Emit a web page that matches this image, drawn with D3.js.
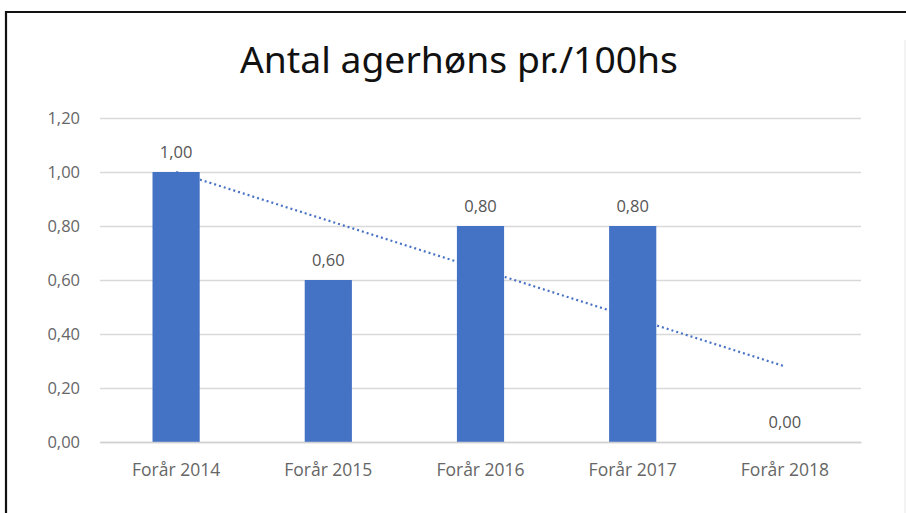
<!DOCTYPE html>
<html>
<head>
<meta charset="utf-8">
<script src="https://cdn.jsdelivr.net/npm/d3@7"></script>
<style>
  html, body { margin: 0; padding: 0; background: #fff; }
  svg { display: block; }
</style>
</head>
<body>
<script>
const categories = ["Forår 2014", "Forår 2015", "Forår 2016", "Forår 2017", "Forår 2018"];
const values = [1.00, 0.60, 0.80, 0.80, 0.00];
const yTicks = [0, 0.2, 0.4, 0.6, 0.8, 1.0, 1.2];
const trendValues = [1.00, 0.28]; // linear trendline value at first and last category
const title = "Antal agerhøns pr./100hs";

const W = 906, H = 513;
const svg = d3.select("body").append("svg").attr("width", W).attr("height", H);

// frame
svg.append("path").attr("d", `M6,${H} V12 H${W}`).attr("fill", "none").attr("stroke", "#111").attr("stroke-width", 2.2);
svg.append("line").attr("x1", 905).attr("x2", 905).attr("y1", 40).attr("y2", H).attr("stroke", "#e6e6e6").attr("stroke-width", 1);

const x = d3.scaleBand().domain(categories).range([100, 861]).paddingInner(0.69).paddingOuter(0.345);
const y = d3.scaleLinear().domain([0, 1.2]).range([442, 118]);
const fmt = v => d3.format(".2f")(v).replace(".", ",");

const font = "'Open Sans', 'Noto Sans', sans-serif";

// title
const t = svg.append("text").attr("x", 459).attr("y", 73).attr("text-anchor", "middle")
  .attr("font-family", "'Noto Sans', sans-serif").attr("font-size", 34).attr("fill", "#111").text(title);
const tw = t.node().getComputedTextLength();
t.attr("font-size", 34 * 438 / tw);

// gridlines
const yAxis = d3.axisLeft(y).tickValues(yTicks).tickSize(-(861 - 100)).tickFormat(fmt).tickPadding(20);
const ga = svg.append("g").attr("transform", "translate(100,0)").call(yAxis);
ga.select(".domain").remove();
ga.selectAll(".tick line").attr("stroke", "#d9d9d9").attr("stroke-width", 1.5);
ga.selectAll(".tick text").attr("font-family", font).attr("font-size", 16.5).attr("fill", "#666");

// trendline (drawn under bars)
const cx = d => x(d) + x.bandwidth() / 2;
svg.append("line")
  .attr("x1", cx(categories[0])).attr("y1", y(trendValues[0]))
  .attr("x2", cx(categories[categories.length - 1])).attr("y2", y(trendValues[1]))
  .attr("stroke", "#4a72c4").attr("stroke-width", 2.2).attr("stroke-dasharray", "2,3");

// bars
svg.selectAll("rect.bar").data(values).join("rect").attr("class", "bar")
  .attr("x", (d, i) => x(categories[i])).attr("width", x.bandwidth())
  .attr("y", d => y(d)).attr("height", d => y(0) - y(d)).attr("fill", "#4472c4");

// value labels
svg.selectAll("text.val").data(values).join("text").attr("class", "val")
  .attr("x", (d, i) => cx(categories[i])).attr("y", d => y(d) - 14)
  .attr("text-anchor", "middle").attr("font-family", font).attr("font-size", 16.5).attr("fill", "#555")
  .text(fmt);

// x axis
const xAxis = d3.axisBottom(x).tickSize(0).tickPadding(22);
const gx = svg.append("g").attr("transform", "translate(0,442)").call(xAxis);
gx.select(".domain").attr("stroke", "#d0d0d0").attr("stroke-width", 1.5);
gx.selectAll(".tick text").attr("font-family", font).attr("font-size", 17.5).attr("fill", "#666");
</script>
</body>
</html>
